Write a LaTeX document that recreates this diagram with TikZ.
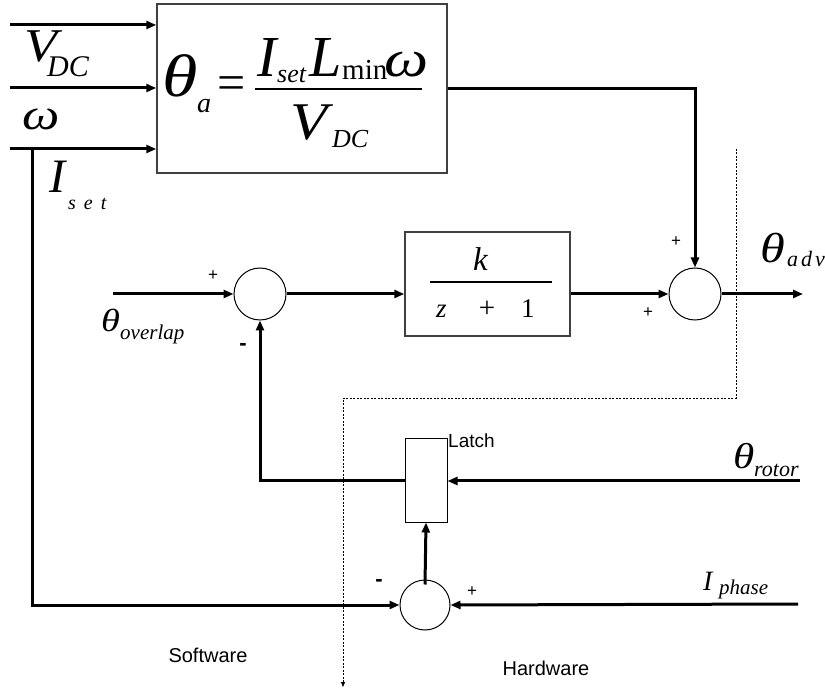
\documentclass[tikz,border=0pt]{standalone}
\usepackage{fontspec}
\setmainfont{Liberation Serif}
\newfontfamily\arialf{Liberation Sans}
\usetikzlibrary{arrows.meta,calc}
\newcommand\fs[1]{\fontsize{#1}{#1}\selectfont}
\newcommand\gx[1]{\scalebox{1.2}[1]{#1}}
\newcommand\vx[1]{\scalebox{1.15}[1]{#1}}
\begin{document}
\begin{tikzpicture}[x=1pt,y=-1pt,
  sig/.style={line width=3pt,-{Triangle[length=10pt,width=8pt]}},
  sumc/.style={circle,draw,line width=1pt,minimum size=52pt,inner sep=0},
  blk/.style={draw=black!75,line width=1.5pt,inner sep=0},
  lab/.style={inner sep=0,anchor=base west},
  pm/.style={inner sep=0,font=\arialf\fs{17}},
  mn/.style={inner sep=0,font=\arialf\bfseries\fs{22}},
  sf/.style={inner sep=0,anchor=base,font=\arialf\fs{20}},
  dsh/.style={line width=0.8pt,dash pattern=on 2pt off 1.5pt}]
\useasboundingbox (0,0) rectangle (825,692);
% blocks
\node[blk,minimum width=290pt,minimum height=169pt] (bigbox) at (302,88.5) {};
\node[blk,minimum width=165pt,minimum height=104pt] (box2) at (487.5,284) {};
\node[draw,line width=1pt,minimum width=42pt,minimum height=83pt,inner sep=0] (latch) at (426,480.5) {};
\node[sumc] (sum1) at (260,294) {};
\node[sumc] (sum2) at (695,294) {};
\node[sumc,minimum size=50pt] (sum3) at (425,605) {};
% free ends
\coordinate (in1) at (10,25);
\coordinate (in2) at (10,88);
\coordinate (in3) at (10,149);
\coordinate (tap) at (32,149);
\coordinate (ovin) at (113,294);
\coordinate (advout) at (803,294);
\coordinate (rotin) at (800,481);
\coordinate (phin) at (798,604);
\coordinate (d1) at (736,149);
\coordinate (d2) at (736,398);
\coordinate (d3) at (343,398);
\coordinate (d4) at (343,687);
% connectors
\draw[sig] (in1) -- (in1 -| bigbox.west);
\draw[sig] (in2) -- (in2 -| bigbox.west);
\draw[sig] (in3) -- (in3 -| bigbox.west);
\draw[sig] (bigbox.east) -| (sum2.north);
\draw[sig] (ovin) -- (sum1.west);
\draw[sig] (sum1.east) -- (sum1.east -| box2.west);
\draw[sig] (sum1.east -| box2.east) -- (sum2.west);
\draw[sig] (sum2.east) -- (advout);
\draw[sig] (rotin) -- (rotin -| latch.east);
\draw[sig] (latch.west |- rotin) -| (sum1.south);
\draw[sig] ($(sum3.north)+(0,5)$) -- (latch.south);
\draw[sig] (tap) |- (sum3.west);
\draw[sig] (phin) -- (sum3.east);
\draw[dsh,-{Triangle[length=5pt,width=4pt]}] (d1) -- (d2) -- (d3) -- (d4);
% big formula
\node[lab,font=\itshape\fs{60}] (fth) at (162,97) {\gx{θ}};
\node[lab,font=\itshape\fs{28}] (fa) at (197,113) {a};
\node[inner sep=0,font=\fs{50}] (feq) at (232,88) {=};
\node[lab,font=\itshape\fs{58}] (fnI) at (257,77) {I};
\node[lab,font=\itshape\fs{26}] (fnset) at (277,83) {set};
\node[lab,font=\itshape\fs{58}] (fnL) at (309,77) {L};
\node[lab,font=\fs{29}] (fnmin) at (342,80) {min};
\node[lab,font=\itshape\fs{52}] (fnw) at (384,77) {\gx{ω}};
\coordinate (fb1) at (255,89);
\coordinate (fb2) at (422,89);
\draw[line width=2pt] (fb1) -- (fb2);
\node[lab,font=\itshape\fs{53}] (fdV) at (290,140) {\vx{V}};
\node[lab,font=\itshape\fs{26}] (fdDC) at (332,148) {DC};
% left labels
\node[lab,font=\itshape\fs{47}] (lV) at (24,62) {\vx{V}};
\node[lab,font=\itshape\fs{30}] (lDC) at (47,77) {DC};
\node[lab,font=\itshape\fs{44}] (lw) at (22,130) {\gx{ω}};
\node[lab,font=\itshape\fs{48}] (lI) at (49,193) {I};
\node[lab,font=\itshape\fs{20}] (lset) at (68,210) {s\kern8pt e\kern8pt t};
% box2 fraction
\node[lab,font=\itshape\fs{33}] (kk) at (473,271) {k};
\coordinate (kb1) at (430,282);
\coordinate (kb2) at (552,282);
\draw[line width=2.5pt] (kb1) -- (kb2);
\node[lab,font=\itshape\fs{27}] (zz) at (436,318) {z};
\node[inner sep=0,font=\fs{29}] (pl) at (487,309) {+};
\node[lab,font=\fs{27}] (one) at (521,318) {1};
% signal labels
\node[lab,font=\itshape\fs{32}] (tho) at (101,332) {\gx{θ}};
\node[lab,font=\itshape\fs{21}] (ovl) at (120,340) {overlap};
\node[lab,font=\itshape\fs{42}] (tha) at (760,263) {\gx{θ}};
\node[lab,font=\itshape\fs{22}] (adv) at (787,267) {a\kern3pt d\kern3pt v};
\node[lab,font=\itshape\fs{36}] (thr) at (733,468) {\gx{θ}};
\node[lab,font=\itshape\fs{22}] (rot) at (754,477) {rotor};
\node[lab,font=\itshape\fs{28}] (ip) at (703,590) {I};
\node[lab,font=\itshape\fs{21}] (ph) at (719,594) {phase};
% signs
\node[pm] (p1) at (213,276) {+};
\node[mn] (m1) at (243,347) {-};
\node[pm] (p2) at (676,242) {+};
\node[pm] (p3) at (648,313) {+};
\node[mn] (m3) at (379,583) {-};
\node[pm] (p4) at (472,592) {+};
% text labels
\node[lab,font=\arialf\fs{19}] (lt) at (448,448) {Latch};
\node[sf] (sw) at (208,662) {Software};
\node[sf] (hw) at (546,675) {Hardware};
\end{tikzpicture}
\end{document}
